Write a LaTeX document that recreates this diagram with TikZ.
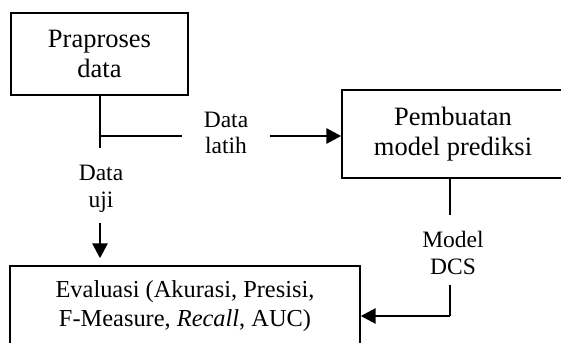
\documentclass[tikz,border=0pt]{standalone}
\usepackage{fontspec}
\setmainfont{Liberation Serif}
\usetikzlibrary{arrows.meta}
\begin{document}
\begin{tikzpicture}[x=1pt,y=-1pt,
  boxstyle/.style={draw, line width=1.4pt, align=center, inner sep=0pt},
  bigtext/.style={font=\fontsize{26.5}{29.5}\selectfont},
  lbl/.style={align=center, inner sep=0pt, font=\fontsize{23.5}{26.5}\selectfont},
  conn/.style={line width=2.9pt},
  arr/.style={conn, -{Triangle[length=15pt,width=15pt]}}]
\useasboundingbox (0,0) rectangle (561,342);
\clip (0,0) rectangle (561,342);
% boxes
\node[boxstyle, bigtext, minimum width=177pt, minimum height=82pt] (pre) at (99.5,54) {Praproses\\data};
\node[boxstyle, bigtext, minimum width=222pt, minimum height=88pt] (model) at (453,134) {Pembuatan\\model prediksi};
\node[boxstyle, font=\fontsize{24.4}{29}\selectfont, minimum width=350pt, minimum height=80pt] (eval) at (185,306) {Evaluasi (Akurasi, Presisi,\\F-Measure, \textit{Recall}, AUC)};
% labels
\node[lbl] (latih) at (226,133) {Data\\latih};
\node[lbl] (uji) at (101,189) {Data\\uji};
\node[lbl] (dcs) at (453,253) {Model\\DCS};
% coordinates
\coordinate (a1) at (100,148);
\coordinate (b0) at (100,136);
\coordinate (b1) at (182,136);
\coordinate (b2) at (270,136);
\coordinate (c0) at (100,223);
\coordinate (d0) at (450,215);
\coordinate (d1) at (450,285);
\coordinate (d2) at (450,316);
% connectors
\draw[conn] (pre.south -| a1) -- (a1);
\draw[conn] (b0) -- (b1);
\draw[arr] (b2) -- (b2 -| model.west);
\draw[arr] (c0) -- ([yshift=7pt]eval.north -| c0);
\draw[conn] (d0 |- model.south) -- (d0);
\draw[conn] (d1) -- (d2);
\draw[arr] (d2) -- (d2 -| eval.east);
\end{tikzpicture}
\end{document}
